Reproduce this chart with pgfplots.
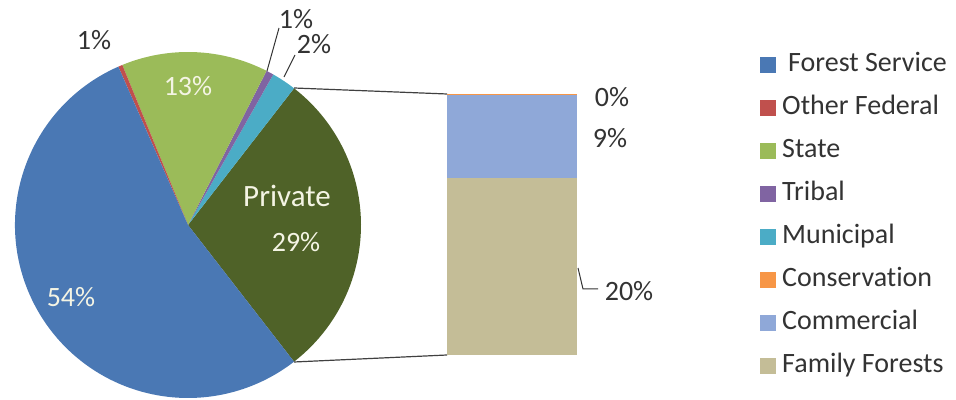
\documentclass[border=0pt]{standalone}
\usepackage{fontspec}
\setmainfont{Carlito}[Ligatures={NoCommon,NoRare}]
\usepackage{pgfplots}
\pgfplotsset{compat=1.18}
\definecolor{cFS}{HTML}{4A78B4}
\definecolor{cOF}{HTML}{C0504D}
\definecolor{cSta}{HTML}{9BBB59}
\definecolor{cTri}{HTML}{8064A2}
\definecolor{cMun}{HTML}{4BACC6}
\definecolor{cCon}{HTML}{F79646}
\definecolor{cCom}{HTML}{8FA8D8}
\definecolor{cFam}{HTML}{C4BD97}
\definecolor{cPriv}{HTML}{4F6228}
\definecolor{txt}{HTML}{333333}
\definecolor{intxt}{HTML}{F4F4E4}
% pie shares (percent)
\def\pPriv{29}\def\pMun{2.3}\def\pTri{0.7}\def\pSta{13.7}\def\pOF{0.4}\def\pFS{53.9}
\pgfmathsetmacro\aA{-1.8*\pPriv}
\pgfmathsetmacro\aB{\aA+3.6*\pPriv}
\pgfmathsetmacro\aC{\aB+3.6*\pMun}
\pgfmathsetmacro\aD{\aC+3.6*\pTri}
\pgfmathsetmacro\aE{\aD+3.6*\pSta}
\pgfmathsetmacro\aF{\aE+3.6*\pOF}
\pgfmathsetmacro\aG{\aF+3.6*\pFS}
\begin{document}%
\begin{tikzpicture}[font=\fontsize{14}{16.8}\selectfont]
\begin{axis}[at={(0,0)}, anchor=south west, scale only axis,
  x=0.5pt, y=0.5pt, xmin=0, xmax=956, ymin=0, ymax=400,
  hide axis, clip=false, enlargelimits=false,
  legend image code/.code={\fill[#1] (0pt,-3.75pt) rectangle (7.5pt,3.75pt); \path (9.5pt,0pt);},
  legend cell align=left,
  legend style={draw=none, fill=none, inner sep=0pt, row sep=7pt,
    at={(axis cs:760,349.5)}, anchor=north west, text=txt,
    font=\fontsize{14}{16.8}\selectfont,
    nodes={inner sep=1pt, text height=9.5pt, text depth=3pt}},
]
\addlegendimage{cFS}\addlegendentry{\hspace{3pt}Forest Service}
\addlegendimage{cOF}\addlegendentry{Other Federal}
\addlegendimage{cSta}\addlegendentry{State}
\addlegendimage{cTri}\addlegendentry{Tribal}
\addlegendimage{cMun}\addlegendentry{Municipal}
\addlegendimage{cCon}\addlegendentry{Conservation}
\addlegendimage{cCom}\addlegendentry{Commercial}
\addlegendimage{cFam}\addlegendentry{Family Forests}
% pie slices
\fill[cPriv] (axis cs:188,175) -- ++(\aA:86.5pt) arc[start angle=\aA, end angle=\aB, radius=86.5pt] -- cycle;
\fill[cMun] (axis cs:188,175) -- ++(\aB:86.5pt) arc[start angle=\aB, end angle=\aC, radius=86.5pt] -- cycle;
\fill[cTri] (axis cs:188,175) -- ++(\aC:86.5pt) arc[start angle=\aC, end angle=\aD, radius=86.5pt] -- cycle;
\fill[cSta] (axis cs:188,175) -- ++(\aD:86.5pt) arc[start angle=\aD, end angle=\aE, radius=86.5pt] -- cycle;
\fill[cOF] (axis cs:188,175) -- ++(\aE:86.5pt) arc[start angle=\aE, end angle=\aF, radius=86.5pt] -- cycle;
\fill[cFS] (axis cs:188,175) -- ++(\aF:86.5pt) arc[start angle=\aF, end angle=\aG, radius=86.5pt] -- cycle;
% connector lines
\draw[black!75, line width=0.6pt] (axis cs:294,312) -- (axis cs:447,306);
\draw[black!75, line width=0.6pt] (axis cs:294,38) -- (axis cs:447,45);
% labels
\node[text=txt] at (axis cs:94,360) {1\%};
\node[text=intxt] at (axis cs:188,314) {13\%};
\node[text=txt] at (axis cs:296,381) {1\%};
\node[text=txt] at (axis cs:314,356) {2\%};
\draw[txt, line width=0.5pt] (axis cs:279,372) -- (axis cs:267,329);
\draw[txt, line width=0.5pt] (axis cs:295,345) -- (axis cs:284,323);
\node[text=intxt, font=\fontsize{15.5}{18}\selectfont] at (axis cs:287,204) {Private};
\node[text=intxt] at (axis cs:296,158) {29\%};
\node[text=intxt] at (axis cs:71,103) {54\%};
\node[text=txt] at (axis cs:612,303) {0\%};
\node[text=txt] at (axis cs:610,262) {9\%};
\node[text=txt] at (axis cs:629,109) {20\%};
\draw[txt, line width=0.5pt] (axis cs:578,132) -- (axis cs:583,111) -- (axis cs:598,111);
\end{axis}
\begin{axis}[at={(223.5pt,22.5pt)}, anchor=south west, scale only axis,
  width=65pt, height=130.5pt, xmin=0, xmax=1, ymin=0, ymax=29,
  hide axis, ybar stacked, bar width=65pt, enlargelimits=false, clip=false]
\addplot[fill=cFam, draw=none] coordinates {(0.5,19.7)};
\addplot[fill=cCom, draw=none] coordinates {(0.5,9.2)};
\addplot[fill=cCon, draw=none] coordinates {(0.5,0.1)};
\end{axis}
\pgfresetboundingbox
\path[use as bounding box] (0,0) rectangle (478pt,200pt);
\end{tikzpicture}%
\end{document}
